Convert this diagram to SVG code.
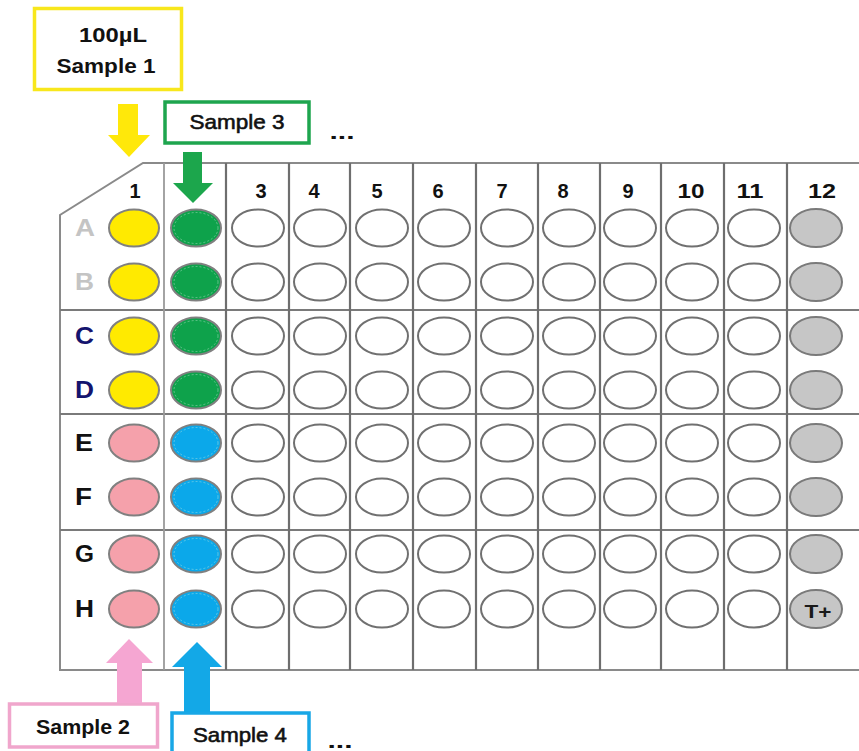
<svg xmlns="http://www.w3.org/2000/svg" width="859" height="751" viewBox="0 0 859 751">
<defs>
<style>
text{font-family:"Liberation Sans",Arial,sans-serif;font-weight:bold;fill:#111;}
.lab{font-size:21px;text-anchor:middle;}
.lab2{font-size:21px;text-anchor:middle;font-weight:normal;stroke:#111;stroke-width:0.6;}
.col{font-size:20px;text-anchor:middle;}
.row{font-size:23px;}
.w{fill:#fff;stroke:#707070;stroke-width:2;}
.y{fill:#ffea00;stroke:#808080;stroke-width:2;}
.g{fill:#0ea24b;stroke:#808080;stroke-width:2;}
.p{fill:#f5a1ab;stroke:#808080;stroke-width:2;}
.b{fill:#0ba8ea;stroke:#808080;stroke-width:2;}
.k{fill:#c6c6c6;stroke:#7a7a7a;stroke-width:2;}
.in{fill:none;stroke:#cfeedd;stroke-width:0.6;stroke-dasharray:2 2;opacity:0.7;}
.vl{stroke:#6e6e6e;stroke-width:2.2;}
.hl{stroke:#7a7a7a;stroke-width:2;}
.box{fill:#fff;stroke-width:3.5;}
</style>
</defs>
<rect width="859" height="751" fill="#fff"/>

<g id="plate">
<path d="M859,163 L143,163 L60,215 L60,670 L859,670" fill="#fff" stroke="#8a8a8a" stroke-width="2"/>
<line class="hl" x1="60" y1="310" x2="859" y2="310"/>
<line class="hl" x1="60" y1="414" x2="859" y2="414"/>
<line class="hl" x1="60" y1="530" x2="859" y2="530"/>
<line x1="164" y1="163" x2="164" y2="670" stroke="#9a9a9a" stroke-width="1.8"/>
<line class="vl" x1="226" y1="163" x2="226" y2="670"/>
<line class="vl" x1="289" y1="163" x2="289" y2="670"/>
<line class="vl" x1="350" y1="163" x2="350" y2="670"/>
<line class="vl" x1="413" y1="163" x2="413" y2="670"/>
<line class="vl" x1="476" y1="163" x2="476" y2="670"/>
<line class="vl" x1="538" y1="163" x2="538" y2="670"/>
<line class="vl" x1="600" y1="163" x2="600" y2="670"/>
<line class="vl" x1="661" y1="163" x2="661" y2="670"/>
<line class="vl" x1="724" y1="163" x2="724" y2="670"/>
<line class="vl" x1="787" y1="163" x2="787" y2="670"/>

<g id="col-labels">
<text class="col" x="135" y="198">1</text>
<text class="col" x="261" y="198">3</text>
<text class="col" x="314" y="198">4</text>
<text class="col" x="377" y="198">5</text>
<text class="col" x="438" y="198">6</text>
<text class="col" x="502" y="198">7</text>
<text class="col" x="563" y="198">8</text>
<text class="col" x="628" y="198">9</text>
<text class="col" x="691" y="198" textLength="27" lengthAdjust="spacingAndGlyphs">10</text>
<text class="col" x="750" y="198" textLength="27" lengthAdjust="spacingAndGlyphs">11</text>
<text class="col" x="822" y="198" textLength="28" lengthAdjust="spacingAndGlyphs">12</text>
</g>

<g id="row-labels">
<text class="row" x="75" y="236" style="fill:#c4c4c4" textLength="20" lengthAdjust="spacingAndGlyphs">A</text>
<text class="row" x="75" y="290" style="fill:#c4c4c4" textLength="19" lengthAdjust="spacingAndGlyphs">B</text>
<text class="row" x="75" y="344" style="fill:#14146e" textLength="19" lengthAdjust="spacingAndGlyphs">C</text>
<text class="row" x="75" y="398" style="fill:#14146e" textLength="19" lengthAdjust="spacingAndGlyphs">D</text>
<text class="row" x="75" y="451" textLength="18" lengthAdjust="spacingAndGlyphs">E</text>
<text class="row" x="75" y="505" textLength="17" lengthAdjust="spacingAndGlyphs">F</text>
<text class="row" x="75" y="562" textLength="19" lengthAdjust="spacingAndGlyphs">G</text>
<text class="row" x="75" y="617" textLength="19" lengthAdjust="spacingAndGlyphs">H</text>
</g>

<g id="wells">
<g id="col1">
<ellipse class="y" cx="134" cy="228" rx="25" ry="18.5"/>
<ellipse class="y" cx="134" cy="282" rx="25" ry="18.5"/>
<ellipse class="y" cx="134" cy="336" rx="25" ry="18.5"/>
<ellipse class="y" cx="134" cy="390" rx="25" ry="18.5"/>
<ellipse class="p" cx="134" cy="443" rx="25" ry="18.5"/>
<ellipse class="p" cx="134" cy="497" rx="25" ry="18.5"/>
<ellipse class="p" cx="134" cy="554" rx="25" ry="18.5"/>
<ellipse class="p" cx="134" cy="609" rx="25" ry="18.5"/>
</g>
<g id="col2">
<ellipse class="g" cx="196" cy="228" rx="25" ry="18.5"/><ellipse class="in" cx="196" cy="228" rx="22" ry="15.5"/>
<ellipse class="g" cx="196" cy="282" rx="25" ry="18.5"/><ellipse class="in" cx="196" cy="282" rx="22" ry="15.5"/>
<ellipse class="g" cx="196" cy="336" rx="25" ry="18.5"/><ellipse class="in" cx="196" cy="336" rx="22" ry="15.5"/>
<ellipse class="g" cx="196" cy="390" rx="25" ry="18.5"/><ellipse class="in" cx="196" cy="390" rx="22" ry="15.5"/>
<ellipse class="b" cx="196" cy="443" rx="25" ry="18.5"/><ellipse class="in" cx="196" cy="443" rx="22" ry="15.5"/>
<ellipse class="b" cx="196" cy="497" rx="25" ry="18.5"/><ellipse class="in" cx="196" cy="497" rx="22" ry="15.5"/>
<ellipse class="b" cx="196" cy="554" rx="25" ry="18.5"/><ellipse class="in" cx="196" cy="554" rx="22" ry="15.5"/>
<ellipse class="b" cx="196" cy="609" rx="25" ry="18.5"/><ellipse class="in" cx="196" cy="609" rx="22" ry="15.5"/>
</g>
<g id="empty">
<g id="r-A"><ellipse class="w" cx="258" cy="228" rx="26" ry="18.5"/><ellipse class="w" cx="320" cy="228" rx="26" ry="18.5"/><ellipse class="w" cx="382" cy="228" rx="26" ry="18.5"/><ellipse class="w" cx="444" cy="228" rx="26" ry="18.5"/><ellipse class="w" cx="507" cy="228" rx="26" ry="18.5"/><ellipse class="w" cx="569" cy="228" rx="26" ry="18.5"/><ellipse class="w" cx="630" cy="228" rx="26" ry="18.5"/><ellipse class="w" cx="692" cy="228" rx="26" ry="18.5"/><ellipse class="w" cx="754" cy="228" rx="26" ry="18.5"/></g>
<g id="r-B"><ellipse class="w" cx="258" cy="282" rx="26" ry="18.5"/><ellipse class="w" cx="320" cy="282" rx="26" ry="18.5"/><ellipse class="w" cx="382" cy="282" rx="26" ry="18.5"/><ellipse class="w" cx="444" cy="282" rx="26" ry="18.5"/><ellipse class="w" cx="507" cy="282" rx="26" ry="18.5"/><ellipse class="w" cx="569" cy="282" rx="26" ry="18.5"/><ellipse class="w" cx="630" cy="282" rx="26" ry="18.5"/><ellipse class="w" cx="692" cy="282" rx="26" ry="18.5"/><ellipse class="w" cx="754" cy="282" rx="26" ry="18.5"/></g>
<g id="r-C"><ellipse class="w" cx="258" cy="336" rx="26" ry="18.5"/><ellipse class="w" cx="320" cy="336" rx="26" ry="18.5"/><ellipse class="w" cx="382" cy="336" rx="26" ry="18.5"/><ellipse class="w" cx="444" cy="336" rx="26" ry="18.5"/><ellipse class="w" cx="507" cy="336" rx="26" ry="18.5"/><ellipse class="w" cx="569" cy="336" rx="26" ry="18.5"/><ellipse class="w" cx="630" cy="336" rx="26" ry="18.5"/><ellipse class="w" cx="692" cy="336" rx="26" ry="18.5"/><ellipse class="w" cx="754" cy="336" rx="26" ry="18.5"/></g>
<g id="r-D"><ellipse class="w" cx="258" cy="390" rx="26" ry="18.5"/><ellipse class="w" cx="320" cy="390" rx="26" ry="18.5"/><ellipse class="w" cx="382" cy="390" rx="26" ry="18.5"/><ellipse class="w" cx="444" cy="390" rx="26" ry="18.5"/><ellipse class="w" cx="507" cy="390" rx="26" ry="18.5"/><ellipse class="w" cx="569" cy="390" rx="26" ry="18.5"/><ellipse class="w" cx="630" cy="390" rx="26" ry="18.5"/><ellipse class="w" cx="692" cy="390" rx="26" ry="18.5"/><ellipse class="w" cx="754" cy="390" rx="26" ry="18.5"/></g>
<g id="r-E"><ellipse class="w" cx="258" cy="443" rx="26" ry="18.5"/><ellipse class="w" cx="320" cy="443" rx="26" ry="18.5"/><ellipse class="w" cx="382" cy="443" rx="26" ry="18.5"/><ellipse class="w" cx="444" cy="443" rx="26" ry="18.5"/><ellipse class="w" cx="507" cy="443" rx="26" ry="18.5"/><ellipse class="w" cx="569" cy="443" rx="26" ry="18.5"/><ellipse class="w" cx="630" cy="443" rx="26" ry="18.5"/><ellipse class="w" cx="692" cy="443" rx="26" ry="18.5"/><ellipse class="w" cx="754" cy="443" rx="26" ry="18.5"/></g>
<g id="r-F"><ellipse class="w" cx="258" cy="497" rx="26" ry="18.5"/><ellipse class="w" cx="320" cy="497" rx="26" ry="18.5"/><ellipse class="w" cx="382" cy="497" rx="26" ry="18.5"/><ellipse class="w" cx="444" cy="497" rx="26" ry="18.5"/><ellipse class="w" cx="507" cy="497" rx="26" ry="18.5"/><ellipse class="w" cx="569" cy="497" rx="26" ry="18.5"/><ellipse class="w" cx="630" cy="497" rx="26" ry="18.5"/><ellipse class="w" cx="692" cy="497" rx="26" ry="18.5"/><ellipse class="w" cx="754" cy="497" rx="26" ry="18.5"/></g>
<g id="r-G"><ellipse class="w" cx="258" cy="554" rx="26" ry="18.5"/><ellipse class="w" cx="320" cy="554" rx="26" ry="18.5"/><ellipse class="w" cx="382" cy="554" rx="26" ry="18.5"/><ellipse class="w" cx="444" cy="554" rx="26" ry="18.5"/><ellipse class="w" cx="507" cy="554" rx="26" ry="18.5"/><ellipse class="w" cx="569" cy="554" rx="26" ry="18.5"/><ellipse class="w" cx="630" cy="554" rx="26" ry="18.5"/><ellipse class="w" cx="692" cy="554" rx="26" ry="18.5"/><ellipse class="w" cx="754" cy="554" rx="26" ry="18.5"/></g>
<g id="r-H"><ellipse class="w" cx="258" cy="609" rx="26" ry="18.5"/><ellipse class="w" cx="320" cy="609" rx="26" ry="18.5"/><ellipse class="w" cx="382" cy="609" rx="26" ry="18.5"/><ellipse class="w" cx="444" cy="609" rx="26" ry="18.5"/><ellipse class="w" cx="507" cy="609" rx="26" ry="18.5"/><ellipse class="w" cx="569" cy="609" rx="26" ry="18.5"/><ellipse class="w" cx="630" cy="609" rx="26" ry="18.5"/><ellipse class="w" cx="692" cy="609" rx="26" ry="18.5"/><ellipse class="w" cx="754" cy="609" rx="26" ry="18.5"/></g>
</g>
<g id="col12">
<ellipse class="k" cx="816" cy="228" rx="26" ry="19"/>
<ellipse class="k" cx="816" cy="282" rx="26" ry="19"/>
<ellipse class="k" cx="816" cy="336" rx="26" ry="19"/>
<ellipse class="k" cx="816" cy="390" rx="26" ry="19"/>
<ellipse class="k" cx="816" cy="443" rx="26" ry="19"/>
<ellipse class="k" cx="816" cy="497" rx="26" ry="19"/>
<ellipse class="k" cx="816" cy="554" rx="26" ry="19"/>
<ellipse class="k" cx="816" cy="609" rx="26" ry="19"/>
<text x="818" y="618" style="font-size:18px;text-anchor:middle;fill:#1a1a1a" textLength="27" lengthAdjust="spacingAndGlyphs">T+</text>
</g>
</g>
</g>

<g id="label-sample1">
<rect class="box" x="34.5" y="8.5" width="147" height="81" stroke="#f8e71c"/>
<text class="lab" x="113" y="42" textLength="68" lengthAdjust="spacingAndGlyphs">100µL</text>
<text class="lab" x="106" y="73" textLength="99" lengthAdjust="spacingAndGlyphs">Sample 1</text>
</g>
<g id="label-sample3">
<rect class="box" x="165" y="102" width="144" height="41" stroke="#1ea54e"/>
<text class="lab2" x="237" y="129" textLength="95" lengthAdjust="spacingAndGlyphs">Sample 3</text>
<text class="lab" x="342" y="139" textLength="25" lengthAdjust="spacingAndGlyphs">...</text>
</g>
<g id="label-sample2">
<rect class="box" x="9.5" y="704" width="148" height="43" stroke="#f0a6cc"/>
<text class="lab" x="83" y="734" textLength="94" lengthAdjust="spacingAndGlyphs">Sample 2</text>
</g>
<g id="label-sample4">
<rect class="box" x="172" y="713" width="137" height="60" stroke="#18a7e6"/>
<text class="lab2" x="240" y="742" textLength="94" lengthAdjust="spacingAndGlyphs">Sample 4</text>
<text class="lab" x="340" y="748" textLength="25" lengthAdjust="spacingAndGlyphs">...</text>
</g>

<g id="connectors">
<polygon points="118,104 138,104 138,135 150,135 129,157 108,135 118,135" fill="#ffe80a"/>
<polygon points="183,152 202,152 202,183 213,183 193,203 173,183 183,183" fill="#1ca64c"/>
<polygon points="117,703 142,703 142,663 153,663 129,639 106,663 117,663" fill="#f5a6d2"/>
<polygon points="184,712 210,712 210,667 222,667 197,642 172,667 184,667" fill="#13a8e7"/>
</g>
</svg>
